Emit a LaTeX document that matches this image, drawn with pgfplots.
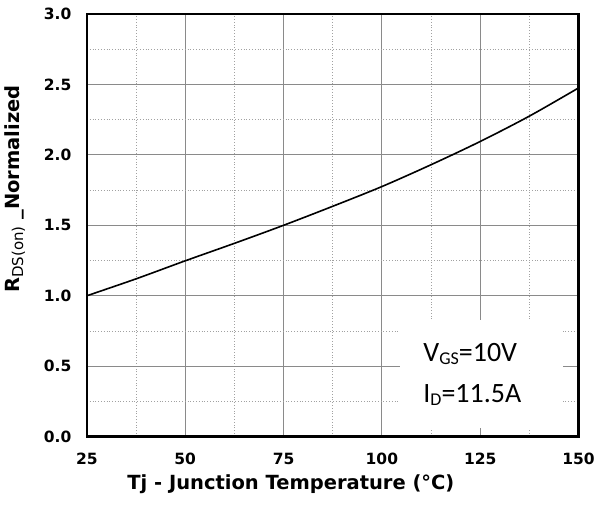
\documentclass[border=0pt]{standalone}
\usepackage{pgfplots}
\pgfplotsset{compat=1.18}
\usepackage{fontspec}
\setmainfont{DejaVu Sans}
\newfontfamily\calfont{Carlito}
\definecolor{gridgray}{HTML}{8A8A8A}
\begin{document}
\begin{tikzpicture}
\begin{axis}[
  name=ax,
  scale only axis,
  width=492pt, height=423pt,
  xmin=25, xmax=150, ymin=0, ymax=3,
  xtick={25,50,...,150},
  ytick={0,0.5,...,3},
  minor xtick={37.5,62.5,87.5,112.5,137.5},
  minor ytick={0.25,0.75,1.25,1.75,2.25,2.75},
  grid=both,
  major grid style={gridgray, line width=1pt},
  minor grid style={gridgray!80, line width=0.8pt, dotted},
  major tick length=0pt, minor tick length=0pt,
  axis line style={black, line width=2.4pt},
  /pgf/number format/assume math mode=true,
  /pgf/number format/fixed,
  /pgf/number format/precision=1,
  yticklabel style={/pgf/number format/fixed zerofill, font=\fontsize{15.5}{17}\selectfont\bfseries, anchor=east, xshift=-12pt},
  xticklabel style={font=\fontsize{15.5}{17}\selectfont\bfseries, anchor=center, yshift=-22pt},
  xlabel={\fontsize{19.5}{22}\selectfont\bfseries Tj - Junction Temperature (°C)},
  ylabel={\fontsize{19.5}{22}\selectfont\bfseries R\raisebox{-0.3ex}{\fontsize{15}{17}\selectfont\mdseries DS(on)} \_Normalized},
  xlabel style={at={(axis description cs:0.415,0)}, anchor=center, yshift=-48pt},
  ylabel style={at={(axis description cs:-0.146,0.586)}, anchor=center},
]
\addplot[black, line width=1.6pt, smooth] coordinates {
(25,1.00) (37.5,1.12) (50,1.248) (62.5,1.372) (75,1.50) (87.5,1.635)
(100,1.775) (112.5,1.93) (125,2.095) (137.5,2.275) (150,2.475)};
\node[fill=white, minimum width=163pt, minimum height=108pt, inner sep=0pt] at (axis cs:125.3,0.447) {};
\node[font=\calfont\fontsize{28}{30}\selectfont, align=left, anchor=center] at (axis cs:123,0.44)
  {V\raisebox{-0.25ex}{\fontsize{18}{20}\selectfont GS}=10V\\[11pt] I\raisebox{-0.25ex}{\fontsize{18}{20}\selectfont D}=11.5A};
\end{axis}
\path ([xshift=-87pt,yshift=-68pt]ax.south west) rectangle ([xshift=19pt,yshift=14pt]ax.north east);
\end{tikzpicture}
\end{document}
